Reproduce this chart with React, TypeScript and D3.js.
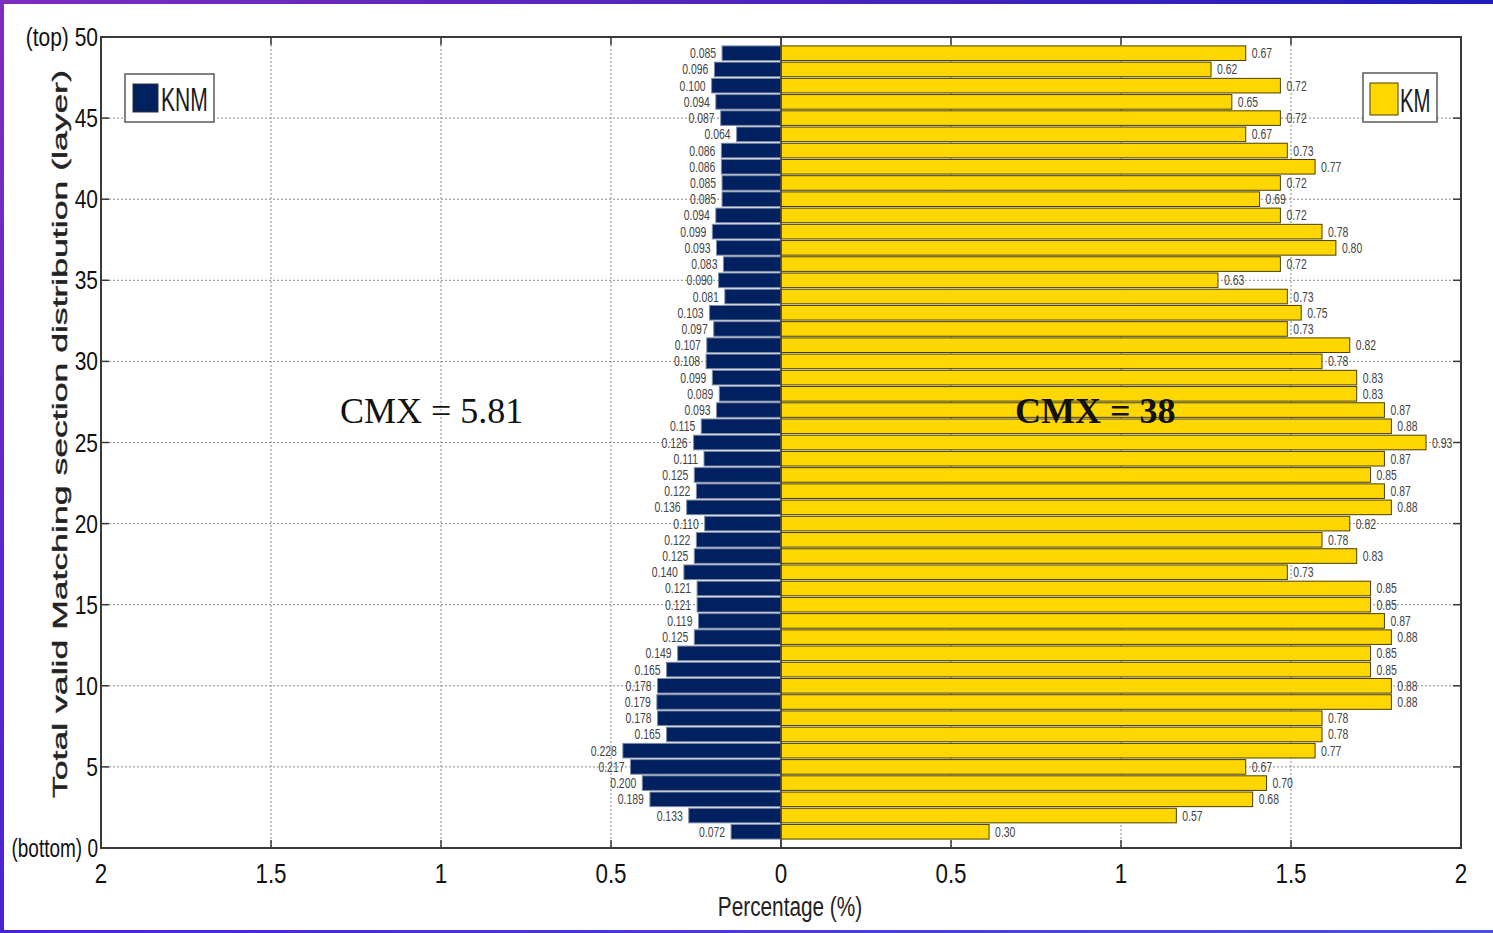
import React from "react";
import * as d3 from "d3";

// Layer shares, listed from the top layer (49) down to the bottom layer (1)
const knmValues = [
  0.085, 0.096, 0.1, 0.094, 0.087, 0.064, 0.086, 0.086, 0.085, 0.085,
  0.094, 0.099, 0.093, 0.083, 0.09, 0.081, 0.103, 0.097, 0.107, 0.108,
  0.099, 0.089, 0.093, 0.115, 0.126, 0.111, 0.125, 0.122, 0.136, 0.11,
  0.122, 0.125, 0.14, 0.121, 0.121, 0.119, 0.125, 0.149, 0.165, 0.178,
  0.179, 0.178, 0.165, 0.228, 0.217, 0.2, 0.189, 0.133, 0.072,
];
const kmValues = [
  0.67, 0.62, 0.72, 0.65, 0.72, 0.67, 0.73, 0.77, 0.72, 0.69,
  0.72, 0.78, 0.8, 0.72, 0.63, 0.73, 0.75, 0.73, 0.82, 0.78,
  0.83, 0.83, 0.87, 0.88, 0.93, 0.87, 0.85, 0.87, 0.88, 0.82,
  0.78, 0.83, 0.73, 0.85, 0.85, 0.87, 0.88, 0.85, 0.85, 0.88,
  0.88, 0.78, 0.78, 0.77, 0.67, 0.7, 0.68, 0.57, 0.3,
];
const xTicks = [-2, -1.5, -1, -0.5, 0, 0.5, 1, 1.5, 2];
const yTicks = [0, 5, 10, 15, 20, 25, 30, 35, 40, 45, 50];
const seriesNames = ["KNM", "KM"];
const cmxLabels = ["CMX = 5.81", "CMX = 38"];

// conversion from the listed share to the plotted percentage
const PERCENT_FACTOR = 2.04;

const W = 1493;
const H = 933;
const PLOT = { left: 101, right: 1461, top: 37, bottom: 848 };
const KNM_FILL = "#012060";
const KM_FILL = "#FFD700";
const SANS = "'Liberation Sans', Arial, sans-serif";
const SERIF = "'Liberation Serif', 'Times New Roman', serif";

const x = d3.scaleLinear().domain([-2, 2]).range([PLOT.left, PLOT.right]);
const y = d3.scaleLinear().domain([0, 50]).range([PLOT.bottom, PLOT.top]);

type CTextProps = {
  x: number;
  y: number;
  sx: number;
  size: number;
  anchor?: "start" | "middle" | "end";
  fill?: string;
  children: React.ReactNode;
};

// narrow text, drawn with a horizontal squeeze
function CText({ x: tx, y: ty, sx, size, anchor = "start", fill = "#111", children }: CTextProps) {
  return (
    <text
      transform={`translate(${tx},${ty}) scale(${sx},1)`}
      textAnchor={anchor}
      fontFamily={SANS}
      fontSize={size}
      fill={fill}
    >
      {children}
    </text>
  );
}

const fmtKnm = d3.format(".3f");
const fmtKm = d3.format(".2f");

export default function App() {
  const n = knmValues.length;
  const layerOf = (i: number) => n - i;
  const half = 0.45;
  const tickLen = 8;

  return (
    <svg
      width={W}
      height={H}
      style={{ position: "absolute", left: 0, top: 0, background: "#fff" }}
    >
      <defs>
        <linearGradient id="frameTop" x1="0" x2="1" y1="0" y2="0">
          <stop offset="0" stopColor="#7d2cbf" />
          <stop offset="1" stopColor="#1f1db8" />
        </linearGradient>
        <linearGradient id="frameLeft" x1="0" x2="0" y1="0" y2="1">
          <stop offset="0" stopColor="#7d2cbf" />
          <stop offset="1" stopColor="#4a22d6" />
        </linearGradient>
        <linearGradient id="frameBottom" x1="0" x2="1" y1="0" y2="0">
          <stop offset="0" stopColor="#4a22d6" />
          <stop offset="1" stopColor="#4b4fe0" />
        </linearGradient>
      </defs>
      <rect x={0} y={0} width={W} height={H} fill="#fff" />

      {/* dotted grid */}
      <g stroke="#8a8a8a" strokeWidth={1} strokeDasharray="2,2">
        {xTicks.map((t) => (
          <line key={`gx${t}`} x1={x(t)} x2={x(t)} y1={PLOT.top} y2={PLOT.bottom} />
        ))}
        {yTicks.map((t) => (
          <line key={`gy${t}`} x1={PLOT.left} x2={PLOT.right} y1={y(t)} y2={y(t)} />
        ))}
      </g>

      {/* KNM bars, extending left */}
      <g>
        {knmValues.map((v, i) => {
          const L = layerOf(i);
          const x0 = x(-v * PERCENT_FACTOR);
          return (
            <rect
              key={`knm${i}`}
              x={x0}
              y={y(L + half)}
              width={x(0) - x0}
              height={y(L - half) - y(L + half)}
              fill={KNM_FILL}
              stroke="#7f8ca6"
              strokeWidth={1}
            />
          );
        })}
      </g>

      {/* KM bars, extending right */}
      <g>
        {kmValues.map((v, i) => {
          const L = layerOf(i);
          return (
            <rect
              key={`km${i}`}
              x={x(0)}
              y={y(L + half)}
              width={x(v * PERCENT_FACTOR) - x(0)}
              height={y(L - half) - y(L + half)}
              fill={KM_FILL}
              stroke="#4a3f00"
              strokeWidth={1}
            />
          );
        })}
      </g>

      {/* baseline at zero */}
      <line x1={x(0)} x2={x(0)} y1={PLOT.top} y2={PLOT.bottom} stroke="#444" strokeWidth={1.5} />

      {/* value labels */}
      <g>
        {knmValues.map((v, i) => (
          <CText
            key={`lk${i}`}
            x={x(-v * PERCENT_FACTOR) - 6}
            y={y(layerOf(i)) + 5}
            sx={0.72}
            size={14.5}
            anchor="end"
            fill="#444"
          >
            {fmtKnm(v)}
          </CText>
        ))}
        {kmValues.map((v, i) => (
          <CText
            key={`lm${i}`}
            x={x(v * PERCENT_FACTOR) + 6}
            y={y(layerOf(i)) + 5}
            sx={0.72}
            size={14.5}
            anchor="start"
            fill="#444"
          >
            {fmtKm(v)}
          </CText>
        ))}
      </g>

      {/* axes box and ticks */}
      <rect
        x={PLOT.left}
        y={PLOT.top}
        width={PLOT.right - PLOT.left}
        height={PLOT.bottom - PLOT.top}
        fill="none"
        stroke="#3a3a3a"
        strokeWidth={2}
      />
      <g stroke="#3a3a3a" strokeWidth={1.5}>
        {xTicks.map((t) => (
          <g key={`tx${t}`}>
            <line x1={x(t)} x2={x(t)} y1={PLOT.bottom} y2={PLOT.bottom - tickLen} />
            <line x1={x(t)} x2={x(t)} y1={PLOT.top} y2={PLOT.top + tickLen} />
          </g>
        ))}
        {yTicks.map((t) => (
          <g key={`ty${t}`}>
            <line x1={PLOT.left} x2={PLOT.left + tickLen} y1={y(t)} y2={y(t)} />
            <line x1={PLOT.right} x2={PLOT.right - tickLen} y1={y(t)} y2={y(t)} />
          </g>
        ))}
      </g>

      {/* x tick labels show magnitudes on both sides */}
      {xTicks.map((t) => (
        <CText key={`xl${t}`} x={x(t)} y={883} sx={0.8} size={28} anchor="middle">
          {String(Math.abs(t))}
        </CText>
      ))}

      {/* y tick labels */}
      {yTicks.map((t) => {
        const label = t === 50 ? `(top) ${t}` : t === 0 ? `(bottom) ${t}` : String(t);
        const sx = t === 0 ? 0.76 : 0.84;
        return (
          <CText key={`yl${t}`} x={98} y={y(t) + 9} sx={sx} size={25} anchor="end">
            {label}
          </CText>
        );
      })}

      {/* axis titles */}
      <CText x={790} y={916} sx={0.77} size={27} anchor="middle" fill="#222">
        Percentage (%)
      </CText>
      <g transform={`translate(67,434) rotate(-90)`}>
        <text
          x={0}
          y={0}
          textAnchor="middle"
          fontFamily={SANS}
          fontSize={21}
          fill="#222"
          stroke="#222"
          strokeWidth={0.4}
          textLength={728}
          lengthAdjust="spacingAndGlyphs"
        >
          Total valid Matching section distribution (layer)
        </text>
      </g>

      {/* legends */}
      <g>
        <rect x={125} y={74} width={89} height={48} fill="#fff" stroke="#5a5a5a" strokeWidth={1.5} />
        <rect x={133} y={84} width={25} height={28} fill={KNM_FILL} stroke="#333" strokeWidth={1} />
        <CText x={161} y={111} sx={0.62} size={34} fill="#1a1a1a">
          {seriesNames[0]}
        </CText>
      </g>
      <g>
        <rect x={1363} y={73} width={74} height={49} fill="#fff" stroke="#5a5a5a" strokeWidth={1.5} />
        <rect x={1370} y={83} width={28} height={32} fill={KM_FILL} stroke="#4a3f00" strokeWidth={1} />
        <CText x={1400} y={112} sx={0.6} size={34} fill="#1a1a1a">
          {seriesNames[1]}
        </CText>
      </g>

      {/* CMX annotations */}
      <text x={340} y={423} fontFamily={SERIF} fontSize={36} fill="#111">
        {cmxLabels[0]}
      </text>
      <text x={1015} y={423} fontFamily={SERIF} fontSize={36} fontWeight="bold" fill="#111">
        {cmxLabels[1]}
      </text>

      {/* outer frame */}
      <rect x={0} y={0} width={W} height={4} fill="url(#frameTop)" />
      <rect x={0} y={0} width={4} height={H} fill="url(#frameLeft)" />
      <rect x={0} y={H - 3} width={W} height={3} fill="url(#frameBottom)" />
    </svg>
  );
}
